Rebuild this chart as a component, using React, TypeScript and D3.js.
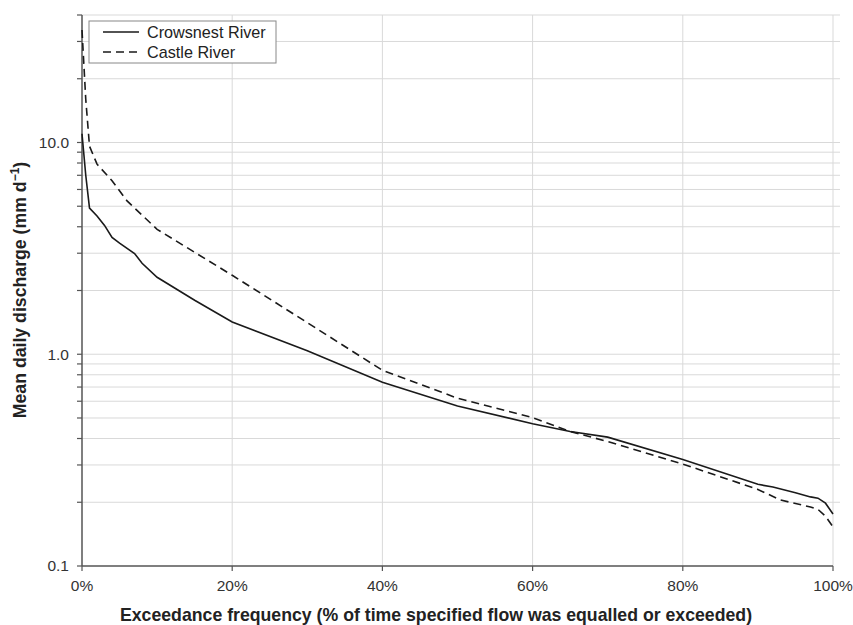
import { useEffect, useRef } from 'react'
import * as d3 from 'd3'

// exceedance frequency (%) and mean daily discharge (mm/d)
const crowsnestX = [0, 0.5, 1, 2, 3, 4, 5, 7, 8, 10, 15, 20, 30, 40, 50, 60, 65, 70, 80, 90, 92, 95, 97, 98, 99, 100]
const crowsnestY = [11, 7, 4.9, 4.5, 4.06, 3.56, 3.35, 2.99, 2.69, 2.31, 1.8, 1.42, 1.04, 0.738, 0.569, 0.47, 0.432, 0.406, 0.318, 0.243, 0.236, 0.222, 0.212, 0.209, 0.198, 0.176]

const castleX = [0, 0.5, 1, 2, 4, 6, 10, 20, 30, 40, 50, 60, 65, 70, 80, 90, 93, 97, 98, 99, 100]
const castleY = [34, 16, 9.6, 7.9, 6.6, 5.3, 3.89, 2.36, 1.41, 0.84, 0.62, 0.502, 0.432, 0.387, 0.303, 0.23, 0.205, 0.19, 0.185, 0.172, 0.153]

const seriesNames = ['Crowsnest River', 'Castle River']
const xTicks = [0, 20, 40, 60, 80, 100]
const yLabelTicks = [0.1, 1, 10]

export default function App() {
  const svgRef = useRef<SVGSVGElement | null>(null)

  const width = 853
  const height = 625
  const margin = { left: 82, right: 20, top: 15, bottom: 59 }

  useEffect(() => {
    const svg = d3.select(svgRef.current)
    svg.selectAll('*').remove()

    const x = d3.scaleLinear().domain([0, 100]).range([margin.left, 833])
    const y = d3.scaleLog().domain([0.1, 40]).range([height - margin.bottom, margin.top])

    // minor log ticks for grid
    const gridVals: number[] = []
    for (const dec of [0.1, 1, 10]) {
      for (let k = 1; k <= 9; k++) {
        const v = +(dec * k).toPrecision(3)
        if (v > 0.1 && v <= 40) gridVals.push(v)
      }
    }

    const grid = svg.append('g')
    grid.selectAll('line.h')
      .data(gridVals)
      .join('line')
      .attr('x1', x(0)).attr('x2', 840)
      .attr('y1', d => y(d)).attr('y2', d => y(d))
      .attr('stroke', '#d9d9d9').attr('stroke-width', 1)

    grid.selectAll('line.v')
      .data(xTicks.filter(d => d > 0))
      .join('line')
      .attr('x1', d => x(d)).attr('x2', d => x(d))
      .attr('y1', y(0.1)).attr('y2', y(40))
      .attr('stroke', '#d9d9d9').attr('stroke-width', 1)

    // axes
    const axisColor = '#555'
    svg.append('line')
      .attr('x1', x(0)).attr('x2', x(0))
      .attr('y1', y(0.1)).attr('y2', y(40))
      .attr('stroke', axisColor).attr('stroke-width', 1.5)
    svg.append('line')
      .attr('x1', x(0)).attr('x2', x(100))
      .attr('y1', y(0.1)).attr('y2', y(0.1))
      .attr('stroke', axisColor).attr('stroke-width', 1.5)

    svg.append('g').selectAll('line')
      .data([0.1, ...gridVals])
      .join('line')
      .attr('x1', x(0) - 5).attr('x2', x(0))
      .attr('y1', d => y(d)).attr('y2', d => y(d))
      .attr('stroke', axisColor).attr('stroke-width', 1.2)

    svg.append('g').selectAll('line')
      .data(xTicks)
      .join('line')
      .attr('x1', d => x(d)).attr('x2', d => x(d))
      .attr('y1', y(0.1)).attr('y2', y(0.1) + 5)
      .attr('stroke', axisColor).attr('stroke-width', 1.2)

    const font = 'Liberation Sans, Arial, sans-serif'

    svg.append('g').selectAll('text')
      .data(yLabelTicks)
      .join('text')
      .attr('x', x(0) - 13).attr('y', d => y(d))
      .attr('dy', '0.35em')
      .attr('text-anchor', 'end')
      .attr('font-family', font).attr('font-size', 15.5).attr('fill', '#333')
      .text(d => d.toFixed(1))

    svg.append('g').selectAll('text')
      .data(xTicks)
      .join('text')
      .attr('x', d => x(d)).attr('y', y(0.1) + 25)
      .attr('text-anchor', 'middle')
      .attr('font-family', font).attr('font-size', 15.5).attr('fill', '#333')
      .text(d => `${d}%`)

    // titles
    svg.append('text')
      .attr('x', 436).attr('y', 621)
      .attr('text-anchor', 'middle')
      .attr('font-family', font).attr('font-size', 17.7).attr('font-weight', 'bold').attr('fill', '#222')
      .text('Exceedance frequency (% of time specified flow was equalled or exceeded)')

    const yt = svg.append('text')
      .attr('transform', `translate(26, ${290}) rotate(-90)`)
      .attr('text-anchor', 'middle')
      .attr('font-family', font).attr('font-size', 17.7).attr('font-weight', 'bold').attr('fill', '#222')
    yt.append('tspan').text('Mean daily discharge (mm d')
    yt.append('tspan').attr('dy', -7).attr('font-size', 12).text('−1')
    yt.append('tspan').attr('dy', 7).text(')')

    // lines
    const line = d3.line<[number, number]>()
      .x(d => x(d[0]))
      .y(d => y(d[1]))

    const crowsnest = crowsnestX.map((v, i) => [v, crowsnestY[i]] as [number, number])
    const castle = castleX.map((v, i) => [v, castleY[i]] as [number, number])

    svg.append('path')
      .datum(castle)
      .attr('d', line)
      .attr('fill', 'none').attr('stroke', '#1a1a1a').attr('stroke-width', 1.6)
      .attr('stroke-dasharray', '8,5')

    svg.append('path')
      .datum(crowsnest)
      .attr('d', line)
      .attr('fill', 'none').attr('stroke', '#1a1a1a').attr('stroke-width', 1.6)

    // legend
    const lg = svg.append('g')
    lg.append('rect')
      .attr('x', 89).attr('y', 21).attr('width', 187).attr('height', 42)
      .attr('fill', '#fff').attr('stroke', '#888').attr('stroke-width', 1)
    seriesNames.forEach((name, i) => {
      const ly = 32 + i * 20
      lg.append('line')
        .attr('x1', 103).attr('x2', 139)
        .attr('y1', ly).attr('y2', ly)
        .attr('stroke', '#1a1a1a').attr('stroke-width', 1.6)
        .attr('stroke-dasharray', i === 1 ? '8,5' : null)
      lg.append('text')
        .attr('x', 147).attr('y', ly).attr('dy', '0.35em')
        .attr('font-family', font).attr('font-size', 16.2).attr('fill', '#222')
        .text(name)
    })
  }, [])

  return (
    <svg
      ref={svgRef}
      width={width}
      height={height}
      style={{ position: 'absolute', left: 0, top: 0, background: '#fff' }}
    />
  )
}
